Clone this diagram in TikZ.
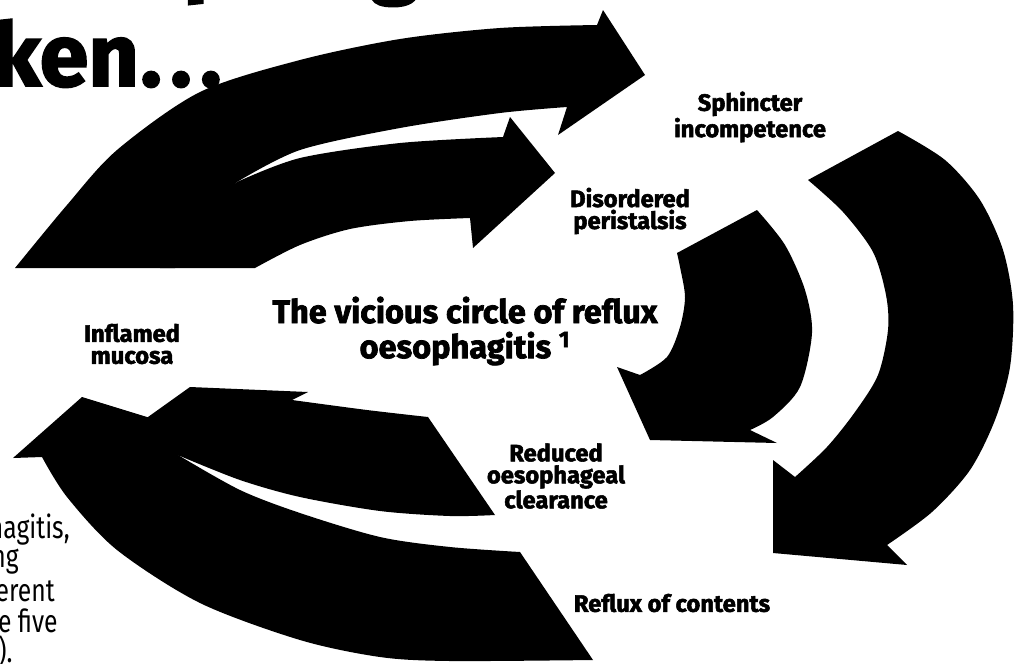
\documentclass[tikz,border=0pt]{standalone}
\usepackage{fontspec}
\setmainfont{Fira Sans}
\newfontfamily\heavyfont[FakeBold=2.2]{Fira Sans}
\newfontfamily\bodyfont[FakeStretch=0.78]{Fira Sans}

\begin{document}
\begin{tikzpicture}[x=0.02cm,y=-0.02cm,
  blob/.style={fill=black},
  lbl/.style={font=\heavyfont\bfseries\fontsize{13.5}{12.5}\selectfont,align=center,inner sep=0pt},
  title/.style={font=\heavyfont\bfseries\fontsize{18.5}{20}\selectfont,align=center,inner sep=0pt},
  head/.style={font=\heavyfont\bfseries\fontsize{50}{56}\selectfont,inner sep=0pt},
  body/.style={font=\bodyfont\fontsize{18}{18}\selectfont,inner sep=0pt,anchor=base east}]
  \useasboundingbox (0,0) rectangle (1020,663);

  % heading, cut off by the page
  \node[head,anchor=base west] (hp) at (183,-15) {p};
  \node[head,anchor=base west] (hg) at (370,-13) {g};
  \node[head,anchor=base west] (hken) at (-8,86) {ken\kern1pt.\kern5pt.\kern5pt.};

  % upper arrows
  \fill[blob] (15,268) -- plot[smooth] coordinates {(15,268) (67,205) (117,150) (200,92) (300,60) (400,39) (500,28) (597,25)}
    -- (603,10) -- (645,75) -- (558,135) -- (567,107)
    -- plot[smooth] coordinates {(567,107) (500,113) (400,128) (300,150) (237,182)}
    -- (175,268) -- cycle;
  \fill[blob] (503,137) -- plot[smooth] coordinates {(503,137) (400,143) (300,158) (237,182)}
    -- (160,268) -- (255,268)
    -- plot[smooth] coordinates {(255,268) (300,245) (350,229) (410,221) (470,218)}
    -- (473,248) -- (555,173) -- (510,117) -- cycle;

  % right arrows
  \fill[blob] (808,180) -- (898,131)
    -- plot[smooth] coordinates {(898,131) (945,160) (980,200) (1003,250) (1013,305) (1010,367) (995,420) (970,470) (932,512) (887,545)}
    -- (907,565) -- (773,553) -- (773,460) -- (795,477)
    -- plot[smooth] coordinates {(795,477) (827,447) (855,412) (878,375) (888,330) (886,295) (873,252) (843,212) (808,180)}
    -- cycle;
  \fill[blob] (677,253) -- (757,210)
    -- plot[smooth] coordinates {(757,210) (785,245) (805,290) (812,333) (800,387) (773,417) (750,430)}
    -- (777,443) -- (650,440) -- (617,367) -- (640,375)
    -- plot[smooth] coordinates {(640,375) (667,357) (680,327) (685,297) (680,267) (677,253)}
    -- cycle;

  % lower arrows
  \fill[blob] (190,387) -- (308,392) -- (292,400)
    -- plot[smooth] coordinates {(292,400) (367,410) (428,417)}
    -- (495,515)
    -- plot[smooth] coordinates {(495,515) (450,516) (380,511) (300,497) (240,480) (180,456)}
    -- (120,445) -- (148,417) -- cycle;
  \fill[blob] (13,458) -- (82,397) -- (160,421) -- (178,455)
    -- plot[smooth] coordinates {(178,455) (240,490) (300,513) (380,537) (450,547) (520,552)}
    -- (593,660)
    -- plot[smooth] coordinates {(593,660) (450,661) (380,657) (300,640) (200,603) (117,550) (67,497) (42,457)}
    -- cycle;

  % labels
  \node[lbl] (sphincter) at (750,117) {Sphincter\\incompetence};
  \node[lbl] (peristalsis) at (630,211) {Disordered\\peristalsis};
  \node[title] (vicious) at (465,331) {The vicious circle of reflux\\oesophagitis \textsuperscript{1}};
  \node[lbl] (mucosa) at (132,344) {Inflamed\\mucosa};
  \node[lbl] (clearance) at (556,476) {Reduced\\oesophageal\\clearance};
  \node[lbl] (contents) at (672,603) {Reflux of contents};

  % body text, cut off at the left
  \node[body] (t1) at (70,538) {hagitis,};
  \node[body] (t2) at (19,567) {ng};
  \node[body] (t3) at (55,601) {erent};
  \node[body] (t4) at (58,632) {e five};
  \node[body] (t5) at (13,662) {).};
\end{tikzpicture}
\end{document}
